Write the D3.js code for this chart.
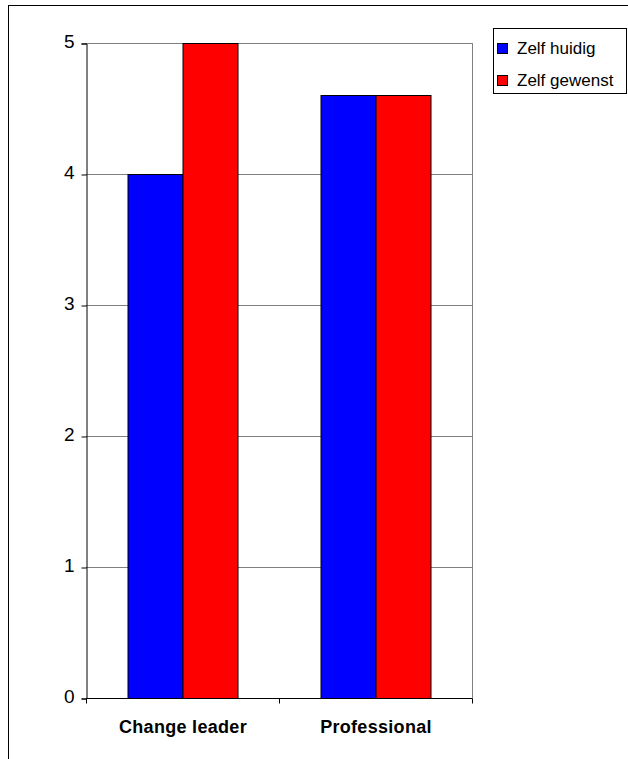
<!DOCTYPE html>
<html>
<head>
<meta charset="utf-8">
<script src="https://cdn.jsdelivr.net/npm/d3@7"></script>
<style>
  html, body { margin: 0; padding: 0; background: #fff; }
  svg { display: block; font-family: "Liberation Sans", Arial, sans-serif; }
</style>
</head>
<body>
<svg id="chart" width="628" height="759"></svg>
<script>
// Scores per role, self-assessment now vs desired
const categories = ["Change leader", "Professional"];
const seriesNames = ["Zelf huidig", "Zelf gewenst"];
const seriesColors = ["#0000ff", "#ff0000"];
const zelfHuidig = [4, 4.6];
const zelfGewenst = [5, 4.6];
const yTicks = [0, 1, 2, 3, 4, 5];

const values = [zelfHuidig, zelfGewenst];

const svg = d3.select("#chart");

// outer chart frame (runs off the right and bottom edges)
svg.append("rect")
  .attr("x", 8.5).attr("y", 5.5)
  .attr("width", 700).attr("height", 800)
  .attr("fill", "none").attr("stroke", "#000").attr("stroke-width", 1);

const plot = { left: 86, right: 472, top: 43, bottom: 698 };

const x = d3.scaleBand().domain(categories).range([plot.left, plot.right]);
const y = d3.scaleLinear().domain([0, 5]).range([plot.bottom, plot.top]);
const groupWidth = 110;
const xs = d3.scaleBand().domain(seriesNames).range([0, groupWidth]);

// gridlines
svg.append("g").selectAll("line").data(yTicks.filter(t => t > 0)).join("line")
  .attr("x1", plot.left).attr("x2", plot.right)
  .attr("y1", d => Math.round(y(d)) + 0.5).attr("y2", d => Math.round(y(d)) + 0.5)
  .attr("stroke", "#808080").attr("stroke-width", 1);

// right edge of plot area
svg.append("line")
  .attr("x1", plot.right + 0.5).attr("x2", plot.right + 0.5)
  .attr("y1", plot.top).attr("y2", plot.bottom)
  .attr("stroke", "#808080").attr("stroke-width", 1);

// bars
categories.forEach((cat, ci) => {
  const gx = x(cat) + (x.bandwidth() - groupWidth) / 2;
  seriesNames.forEach((s, si) => {
    const v = values[si][ci];
    svg.append("rect")
      .attr("x", gx + xs(s) + 0.5)
      .attr("y", Math.round(y(v)) + 0.5)
      .attr("width", xs.bandwidth())
      .attr("height", Math.round(y(0)) - Math.round(y(v)))
      .attr("fill", seriesColors[si])
      .attr("stroke", "#000").attr("stroke-width", 1);
  });
});

// y axis
const yAxis = svg.append("g")
  .attr("transform", `translate(${plot.left + 0.5},0.5)`)
  .call(d3.axisLeft(y).tickValues(yTicks).tickSize(5).tickPadding(7).tickFormat(d3.format("d")));
yAxis.select(".domain").attr("stroke", "#000");
yAxis.selectAll(".tick line").attr("stroke", "#000");
yAxis.selectAll("text")
  .attr("font-size", 19).attr("fill", "#000").attr("dy", "0.22em")
  .attr("font-family", "'Liberation Sans', Arial, sans-serif");

// x axis
const xAxisG = svg.append("g")
  .attr("transform", `translate(0.5,${plot.bottom + 0.5})`);
xAxisG.append("line")
  .attr("x1", plot.left).attr("x2", plot.right)
  .attr("stroke", "#000");
const xTickPos = [plot.left, plot.left + x.bandwidth(), plot.right];
xAxisG.selectAll("line.tk").data(xTickPos).join("line").attr("class", "tk")
  .attr("x1", d => d).attr("x2", d => d).attr("y1", 0).attr("y2", 5)
  .attr("stroke", "#000");
xAxisG.selectAll("text").data(categories).join("text")
  .attr("x", d => x(d) + x.bandwidth() / 2)
  .attr("y", 34)
  .attr("text-anchor", "middle")
  .attr("font-size", 18).attr("font-weight", "bold").attr("fill", "#000")
  .attr("letter-spacing", 0.3)
  .text(d => d);

// legend
const legend = svg.append("g");
legend.append("rect")
  .attr("x", 493.5).attr("y", 28.5).attr("width", 133).attr("height", 65)
  .attr("fill", "#fff").attr("stroke", "#000").attr("stroke-width", 1);
seriesNames.forEach((s, i) => {
  const top = 43 + i * 32;
  legend.append("rect")
    .attr("x", 497.5).attr("y", top + 0.5).attr("width", 10).attr("height", 10)
    .attr("fill", seriesColors[i]).attr("stroke", "#000").attr("stroke-width", 1);
  legend.append("text")
    .attr("x", 517).attr("y", top + 11)
    .attr("font-size", 17).attr("fill", "#000")
    .text(s);
});
</script>
</body>
</html>
